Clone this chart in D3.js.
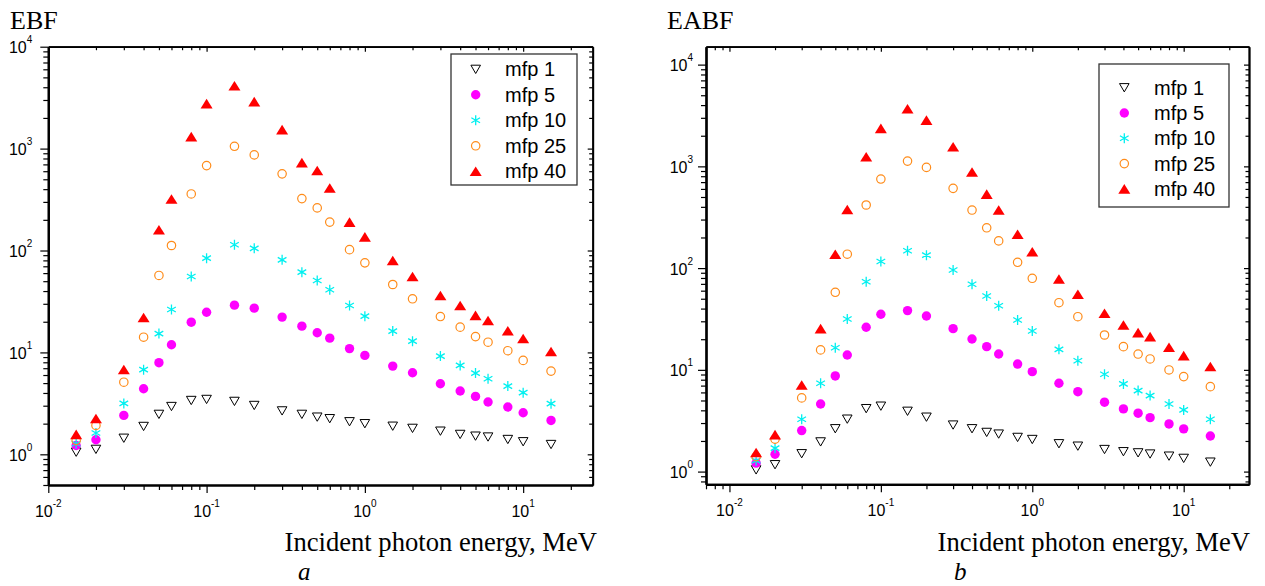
<!DOCTYPE html>
<html><head><meta charset="utf-8">
<script src="https://cdn.jsdelivr.net/npm/d3@7"></script>
<style>body{margin:0;background:#fff;} svg{display:block;}</style>
</head><body>
<svg id="chart" width="1265" height="586"></svg>
<script>
// ---------- data ----------
const energy = [0.015,0.02,0.03,0.04,0.05,0.06,0.08,0.1,0.15,0.2,0.3,0.4,0.5,0.6,0.8,1,1.5,2,3,4,5,6,8,10,15];

const ebfMfp1  = [1.05,1.12,1.44,1.88,2.47,2.95,3.38,3.46,3.31,3.02,2.67,2.47,2.32,2.24,2.09,2.0,1.89,1.8,1.69,1.57,1.51,1.48,1.4,1.33,1.25];
const ebfMfp5  = [1.22,1.39,2.41,4.4,7.93,11.9,19.8,24.8,29.1,27.2,22.2,18.1,15.6,13.8,10.9,9.35,7.34,6.32,4.93,4.18,3.7,3.26,2.91,2.56,2.15];
const ebfMfp10 = [1.27,1.62,3.16,6.77,15.3,26.4,55.6,84.1,114,105,81,61.3,50.8,41.2,28.9,22.7,16.2,12.9,9.2,7.46,6.27,5.52,4.67,4.03,3.14];
const ebfMfp25 = [1.37,1.92,5.1,14.1,56.9,112,359,681,1054,867,565,323,262,190,102,75.7,46.4,33.6,22.5,17.7,14.3,12.6,10.4,8.35,6.56];
const ebfMfp40 = [1.57,2.25,6.8,22,160,320,1312,2760,4140,2890,1537,729,609,410,190,136,79.8,55.6,36.2,28.9,23.1,20.6,16.3,13.7,10.2];

const eabfMfp1  = [1.04,1.17,1.5,1.96,2.64,3.28,4.16,4.4,3.92,3.43,2.87,2.64,2.43,2.34,2.17,2.07,1.88,1.78,1.65,1.57,1.53,1.49,1.42,1.35,1.24];
const eabfMfp5  = [1.21,1.48,2.53,4.62,8.71,14.0,26.2,35.2,38.2,33.8,25.4,20.1,16.9,14.3,11.4,9.6,7.38,6.1,4.81,4.13,3.75,3.39,2.94,2.63,2.24];
const eabfMfp10 = [1.28,1.7,3.27,7.38,16.5,31.6,73.5,116,148,134,95.8,69.3,53.2,42.7,30.9,24.1,15.9,12.3,9.05,7.27,6.25,5.58,4.62,4.04,3.27];
const eabfMfp25 = [1.4,2.08,5.3,15.7,57.8,137,417,750,1127,977,608,372,249,185,114,79.4,45.7,33.3,22,16.9,14.3,12.8,9.98,8.58,6.84];
const eabfMfp40 = [1.54,2.31,7.1,25.4,137,377,1243,2362,3680,2850,1558,879,534,372,215,145,78.2,55.3,36,27.6,23.2,21.2,16.7,13.8,10.8];

const seriesNames = ["mfp 1","mfp 5","mfp 10","mfp 25","mfp 40"];
const markerTypes = ["tdown","dot","star","ocircle","tup"];
const xTickExponents = [-2,-1,0,1];
const yTickExponents = [0,1,2,3,4];
const panelTitles = ["EBF","EABF"];
const panelLetters = ["a","b"];
const xAxisTitle = "Incident photon energy, MeV";

// ---------- layout ----------
const panels = [
  {title:panelTitles[0], letter:panelLetters[0], series:[ebfMfp1,ebfMfp5,ebfMfp10,ebfMfp25,ebfMfp40],
   x0:48.3, x1:592.7, y0:46.7, y1:485, xDom:[0.01,27.5], yDom:[0.5,1e4],
   titleX:10, labelRight:597, letterX:298, ylabGap:16,
   leg:{x:451, y:54, w:126, h:131, row0:69.3, step:25.5, symX:475.7, textX:505}},
  {title:panelTitles[1], letter:panelLetters[1], series:[eabfMfp1,eabfMfp5,eabfMfp10,eabfMfp25,eabfMfp40],
   x0:706, x1:1249, y0:46.7, y1:484.3, xDom:[0.007,27], yDom:[0.75,15000],
   titleX:667, labelRight:1250, letterX:954, ylabGap:13,
   leg:{x:1099, y:64, w:130, h:143, row0:87.7, step:25.3, symX:1124.3, textX:1154}}
];

const svg = d3.select("#chart");

function drawMarker(g, type, x, y) {
  if (type === "tdown") {
    g.append("path").attr("d", `M${x-4.8},${y-4.1}L${x+4.8},${y-4.1}L${x},${y+4.2}Z`)
      .attr("fill","#fff").attr("stroke","#000").attr("stroke-width",1);
  } else if (type === "dot") {
    g.append("circle").attr("cx",x).attr("cy",y).attr("r",4.7).attr("fill","#ff00ff");
  } else if (type === "star") {
    const r = 5, c = "#00f0f0";
    const d = `M${x},${y-r}L${x},${y+r}M${x-r*0.87},${y-r*0.5}L${x+r*0.87},${y+r*0.5}M${x-r*0.87},${y+r*0.5}L${x+r*0.87},${y-r*0.5}`;
    g.append("path").attr("d", d).attr("stroke", c).attr("stroke-width",1.3).attr("fill","none");
  } else if (type === "ocircle") {
    g.append("circle").attr("cx",x).attr("cy",y).attr("r",4.2).attr("fill","none")
      .attr("stroke","#ff8c1a").attr("stroke-width",1.2);
  } else if (type === "tup") {
    g.append("path").attr("d", `M${x},${y-4.8}L${x+6},${y+4.8}L${x-6},${y+4.8}Z`).attr("fill","#ff0000");
  }
}

function minorValues(dom) {
  const out = [];
  const lo = Math.floor(Math.log10(dom[0])), hi = Math.ceil(Math.log10(dom[1]));
  for (let k = lo; k <= hi; k++) for (let m = 1; m <= 9; m++) {
    const v = m * Math.pow(10, k);
    if (v >= dom[0]*0.999 && v <= dom[1]*1.001) out.push(v);
  }
  return out;
}

panels.forEach(p => {
  const x = d3.scaleLog().domain(p.xDom).range([p.x0, p.x1]);
  const y = d3.scaleLog().domain(p.yDom).range([p.y1, p.y0]);
  const g = svg.append("g");

  const xMajor = xTickExponents.map(e => Math.pow(10, e)).filter(v => v >= p.xDom[0] && v <= p.xDom[1]);
  const yMajor = yTickExponents.map(e => Math.pow(10, e)).filter(v => v >= p.yDom[0] && v <= p.yDom[1]);
  const xMinor = minorValues(p.xDom).filter(v => !xMajor.some(m => Math.abs(m - v) < 1e-9));
  const yMinor = minorValues(p.yDom).filter(v => !yMajor.some(m => Math.abs(m - v) < 1e-9));

  const styleAxis = (sel, w) => {
    sel.selectAll("path.domain").attr("stroke","#000").attr("stroke-width", w);
    sel.selectAll(".tick line").attr("stroke","#000").attr("stroke-width",1.2);
    sel.selectAll(".tick text").remove();
  };

  // top & right (inward ticks)
  g.append("g").attr("transform",`translate(0,${p.y0})`)
    .call(d3.axisTop(x).tickValues(xMinor).tickSize(-3.5).tickSizeOuter(0).tickFormat(() => ""))
    .call(s => styleAxis(s, 1.8));
  g.append("g").attr("transform",`translate(0,${p.y0})`)
    .call(d3.axisTop(x).tickValues(xMajor).tickSize(-5).tickSizeOuter(0).tickFormat(() => ""))
    .call(s => styleAxis(s, 1.8));
  g.append("g").attr("transform",`translate(${p.x1},0)`)
    .call(d3.axisRight(y).tickValues(yMinor).tickSize(-3.5).tickSizeOuter(0).tickFormat(() => ""))
    .call(s => styleAxis(s, 1.8));
  g.append("g").attr("transform",`translate(${p.x1},0)`)
    .call(d3.axisRight(y).tickValues(yMajor).tickSize(-5).tickSizeOuter(0).tickFormat(() => ""))
    .call(s => styleAxis(s, 1.8));

  // bottom & left (outward ticks)
  g.append("g").attr("transform",`translate(0,${p.y1})`)
    .call(d3.axisBottom(x).tickValues(xMinor).tickSize(5).tickSizeOuter(0).tickFormat(() => ""))
    .call(s => styleAxis(s, 2.2));
  g.append("g").attr("transform",`translate(0,${p.y1})`)
    .call(d3.axisBottom(x).tickValues(xMajor).tickSize(8).tickSizeOuter(0).tickFormat(() => ""))
    .call(s => styleAxis(s, 2.2));
  g.append("g").attr("transform",`translate(${p.x0},0)`)
    .call(d3.axisLeft(y).tickValues(yMinor).tickSize(5).tickSizeOuter(0).tickFormat(() => ""))
    .call(s => styleAxis(s, 2.2));
  g.append("g").attr("transform",`translate(${p.x0},0)`)
    .call(d3.axisLeft(y).tickValues(yMajor).tickSize(8).tickSizeOuter(0).tickFormat(() => ""))
    .call(s => styleAxis(s, 2.2));

  // tick labels with superscripts
  const font = "Liberation Sans, Arial, sans-serif";
  xMajor.forEach(v => {
    const t = g.append("text").attr("x", x(v)).attr("y", p.y1 + 31.5)
      .attr("text-anchor","middle").attr("font-family",font).attr("font-size",16).attr("fill","#000");
    t.append("tspan").text("10");
    t.append("tspan").attr("font-size",10).attr("dy",-10).text(String(Math.round(Math.log10(v))));
  });
  yMajor.forEach(v => {
    const t = g.append("text").attr("x", p.x0 - p.ylabGap).attr("y", y(v) + 6.5)
      .attr("text-anchor","end").attr("font-family",font).attr("font-size",16).attr("fill","#000");
    t.append("tspan").text("10");
    t.append("tspan").attr("font-size",10).attr("dy",-10).text(String(Math.round(Math.log10(v))));
  });

  // data
  const dg = g.append("g");
  p.series.forEach((vals, si) => {
    vals.forEach((v, i) => drawMarker(dg, markerTypes[si], x(energy[i]), y(v)));
  });

  // legend
  const L = p.leg;
  g.append("rect").attr("x",L.x).attr("y",L.y).attr("width",L.w).attr("height",L.h)
    .attr("fill","#fff").attr("stroke","#333").attr("stroke-width",1.3);
  seriesNames.forEach((name, si) => {
    const cy = L.row0 + si * L.step;
    drawMarker(g, markerTypes[si], L.symX, cy);
    g.append("text").attr("x", L.textX).attr("y", cy + 7).attr("font-family",font)
      .attr("font-size",20).attr("fill","#000").text(name);
  });

  // titles
  const serif = "Liberation Serif, Times New Roman, serif";
  g.append("text").attr("x", p.titleX).attr("y", 29.3).attr("font-family",serif)
    .attr("font-size",26).attr("fill","#000").text(p.title);
  g.append("text").attr("x", p.labelRight).attr("y", 550.7).attr("text-anchor","end")
    .attr("font-family",serif).attr("font-size",26.6).attr("fill","#000").text(xAxisTitle);
  g.append("text").attr("x", p.letterX).attr("y", 579.5).attr("font-family",serif)
    .attr("font-style","italic").attr("font-size",25).attr("fill","#000").text(p.letter);
});
</script>
</body></html>
